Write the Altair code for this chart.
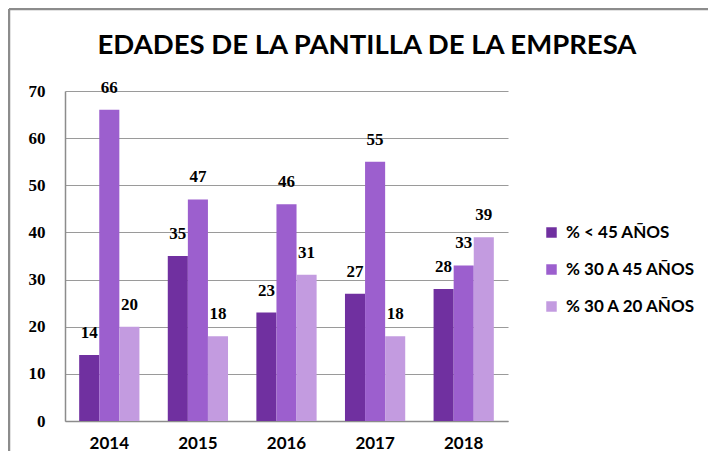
import altair as alt
import pandas as pd

years = ["2014", "2015", "2016", "2017", "2018"]
series = ["% < 45 AÑOS", "% 30 A 45 AÑOS", "% 30 A 20 AÑOS"]
s1 = [14, 35, 23, 27, 28]
s2 = [66, 47, 46, 55, 33]
s3 = [20, 18, 31, 18, 39]
colors = ["#7030A0", "#9C5FCE", "#C39BE0"]
title_text = "EDADES DE LA PANTILLA DE LA EMPRESA"

rows = []
for i, y in enumerate(years):
    for name, vals in zip(series, [s1, s2, s3]):
        rows.append({"year": y, "serie": name, "value": vals[i]})
df = pd.DataFrame(rows)

W, H = 443, 330
PL, PT, PR, PB = 57, 83, 200, 30

xenc = alt.X("year:N", title=None, sort=years,
             scale=alt.Scale(paddingInner=0.32, paddingOuter=0.16),
             axis=alt.Axis(labelAngle=0, labelFont="Lato", labelFontSize=17,
                           labelFontWeight="bold", labelColor="#000", labelPadding=14,
                           ticks=False, domainColor="#8c8c8c", domainWidth=1.5))
yenc = alt.Y("value:Q", title=None,
             scale=alt.Scale(domain=[0, 70], nice=False),
             axis=alt.Axis(values=[0, 10, 20, 30, 40, 50, 60, 70], labelFont="Liberation Serif",
                           labelFontSize=17, labelFontWeight="bold", labelColor="#000",
                           labelPadding=20, ticks=False, gridColor="#9a9a9a", gridWidth=1.2,
                           domainColor="#8c8c8c", domainWidth=1.5))
color = alt.Color("serie:N", sort=series, scale=alt.Scale(domain=series, range=colors),
                  legend=alt.Legend(title=None, orient="none", legendX=478, legendY=133,
                                    symbolType="square", symbolSize=110, symbolStrokeWidth=0,
                                    labelFont="Lato", labelFontSize=17, labelFontWeight="bold",
                                    labelColor="#000", rowPadding=19, labelOffset=6))
xoff = alt.XOffset("serie:N", sort=series, scale=alt.Scale(paddingInner=0, paddingOuter=0))

base = alt.Chart(df)
bars = base.mark_bar(stroke=None).encode(x=xenc, y=yenc, color=color, xOffset=xoff)
labels = base.mark_text(baseline="alphabetic", dy=-17, font="Liberation Serif", fontSize=17,
                        fontWeight="bold", color="#000").encode(x=xenc, y=yenc, xOffset=xoff, text="value:Q")

one = pd.DataFrame({"a": [0]})
frame_top = alt.Chart(one).mark_rule(color="#8c8c8c", strokeWidth=2.5).encode(
    x=alt.value(-56), x2=alt.value(W + PR), y=alt.value(-82))
frame_left = alt.Chart(one).mark_rule(color="#8c8c8c", strokeWidth=2.5).encode(
    x=alt.value(-56), y=alt.value(-82), y2=alt.value(H + PB))
title = alt.Chart(one).mark_text(font="Lato", fontSize=27.5, fontWeight="bold", color="#000",
                                 align="center", baseline="middle").encode(
    x=alt.value(302), y=alt.value(-45), text=alt.value(title_text))

chart = alt.layer(frame_top, frame_left, title, bars, labels).properties(
    width=W, height=H,
    autosize=alt.AutoSizeParams(type="none"),
    padding={"left": PL, "top": PT, "right": PR, "bottom": PB},
).configure_view(stroke=None).configure_axis(grid=True).configure_axisX(grid=False)

chart.save("out.html", embed_options={"renderer": "svg", "actions": False})
